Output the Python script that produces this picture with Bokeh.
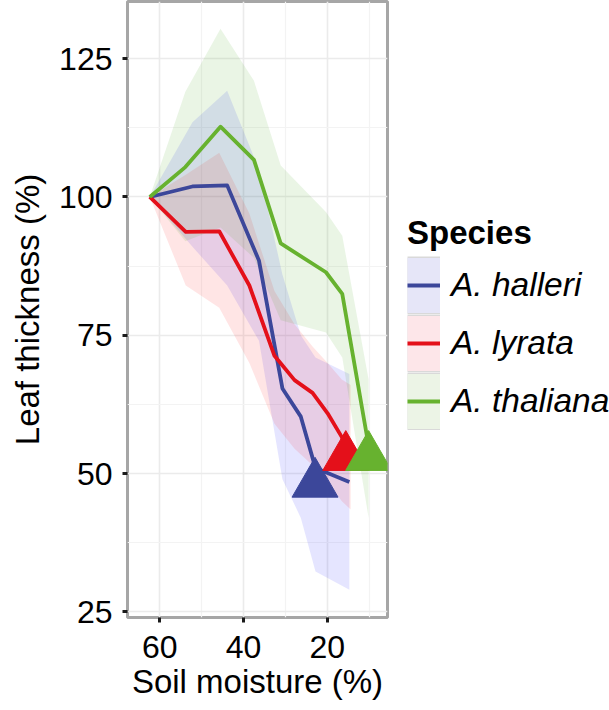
from bokeh.plotting import figure
from bokeh.layouts import row
from bokeh.models import Range1d, FixedTicker, Legend, LegendItem
from bokeh.embed import file_html
from bokeh.resources import INLINE

# ---------------- data ----------------
species = ["A. halleri", "A. lyrata", "A. thaliana"]
line_colors = ["#3C479A", "#E4101A", "#67B22F"]
band_colors = ["#0000FF", "#FF0000", "#339900"]
key_colors = ["#e6e6f8", "#fde6e9", "#ecf4e6"]

halleri_moisture = [62.4, 52.2, 43.9, 36.3, 30.7, 26.3, 22.8, 14.7]
halleri_thickness = [100, 101.9, 102.1, 88.5, 65.4, 60.3, 51.0, 48.5]
halleri_upper = [100, 113.5, 119.2, 105.0, 86.0, 75.0, 71.0, 68.0]
halleri_lower = [100, 91.0, 84.0, 74.0, 49.0, 42.0, 32.3, 29.0]

lyrata_moisture = [62.4, 53.8, 45.8, 38.6, 32.6, 27.8, 23.5, 19.9, 16.5, 14.4]
lyrata_thickness = [100, 93.7, 93.8, 84.0, 71.3, 66.9, 64.6, 60.9, 56.6, 53.0]
lyrata_upper = [100, 104, 108, 97, 83, 77, 73, 70, 67, 66]
lyrata_lower = [100, 84, 80, 70, 59, 54.5, 51.5, 48.5, 45, 43.5]

thaliana_moisture = [62.4, 53.9, 45.5, 37.5, 31.1, 20.3, 16.4, 10.1]
thaliana_thickness = [100, 105.4, 112.7, 106.7, 91.6, 86.4, 82.5, 55.0]
thaliana_upper = [100, 119, 130.4, 121, 105.7, 97.3, 93, 67]
thaliana_lower = [100, 92, 94.5, 89, 77.7, 75.5, 71, 42]

# threshold points (triangles)
threshold_moisture = [22.9, 15.56, 10.1]
threshold_thickness = [48.15, 52.98, 52.98]

x_ticks = [20, 40, 60]
x_minor = [10, 30, 50]
y_ticks = [25, 50, 75, 100, 125]
y_minor = [37.5, 62.5, 87.5, 112.5]

series = [
    (halleri_moisture, halleri_thickness, halleri_upper, halleri_lower),
    (lyrata_moisture, lyrata_thickness, lyrata_upper, lyrata_lower),
    (thaliana_moisture, thaliana_thickness, thaliana_upper, thaliana_lower),
]

FONT = "Liberation Sans"

p = figure(
    width=389, height=710,
    x_range=Range1d(67.72, 5.59), y_range=Range1d(24.0, 135.33),
    output_backend="svg", toolbar_location=None,
    min_border_left=127, min_border_top=1, min_border_right=2, min_border_bottom=93,
    background_fill_color="white", border_fill_color="white",
)

p.outline_line_color = "#a6a6a6"
p.outline_line_width = 3

# axes
p.xaxis.ticker = FixedTicker(ticks=x_ticks, minor_ticks=x_minor)
p.yaxis.ticker = FixedTicker(ticks=y_ticks, minor_ticks=y_minor)
p.xaxis.axis_label = "Soil moisture (%)"
p.yaxis.axis_label = "Leaf thickness (%)"
for ax in (p.xaxis[0], p.yaxis[0]):
    ax.axis_line_color = None
    ax.major_tick_in = 0
    ax.major_tick_out = 5
    ax.major_tick_line_width = 3
    ax.major_tick_line_color = "#1a1a1a"
    ax.minor_tick_in = 0
    ax.minor_tick_out = 0
    ax.minor_tick_line_color = None
    ax.major_label_text_font = FONT
    ax.major_label_text_font_size = "32px"
    ax.major_label_text_color = "black"
    ax.axis_label_text_font = FONT
    ax.axis_label_text_font_size = "33px"
    ax.axis_label_text_font_style = "normal"
    ax.axis_label_text_color = "black"
p.xaxis.major_label_standoff = 13
p.xaxis.axis_label_standoff = 2
p.yaxis.major_label_standoff = 10
p.yaxis.axis_label_standoff = 10

for g in (p.xgrid[0], p.ygrid[0]):
    g.grid_line_color = "#ebebeb"
    g.grid_line_width = 1.6
    g.minor_grid_line_color = "#f3f3f3"
    g.minor_grid_line_width = 1.2

# bands
for (mx, th, up, lo), bc in zip(series, band_colors):
    p.varea(x=mx, y1=lo, y2=up, fill_color=bc, fill_alpha=0.1)

# lines
for (mx, th, up, lo), lc in zip(series, line_colors):
    p.line(x=mx, y=th, line_color=lc, line_width=3.8, line_join="round")

# threshold triangles
for i in range(3):
    p.scatter(x=[threshold_moisture[i]], y=[threshold_thickness[i]], marker="triangle",
              size=46, fill_color=line_colors[i], line_color=line_colors[i], line_width=1)

# ---------------- legend panel ----------------
leg = figure(
    width=220, height=710, x_range=Range1d(0, 1), y_range=Range1d(0, 1),
    output_backend="svg", toolbar_location=None,
    x_axis_location=None, y_axis_location=None, min_border=0,
    outline_line_color=None, background_fill_color="white", border_fill_color="white",
)
leg.grid.visible = False

# key renderers hold a point outside the visible range; they only draw the legend keys
offscreen = [5, 6]
items = []
for sp, kc, lc in zip(species, key_colors, line_colors):
    b = leg.line(x=offscreen, y=offscreen, line_color="#d9d9d9", line_width=58, line_cap="butt")
    f = leg.line(x=offscreen, y=offscreen, line_color=kc, line_width=55, line_cap="butt")
    l = leg.line(x=offscreen, y=offscreen, line_color=lc, line_width=3.8)
    items.append(LegendItem(label=sp, renderers=[b, f, l]))

legend = Legend(items=items, title="Species", location=(18, 187))
legend.title_text_font = FONT
legend.title_text_font_size = "33px"
legend.title_text_font_style = "bold"
legend.title_text_color = "black"
legend.title_standoff = 4
legend.label_text_font = FONT
legend.label_text_font_size = "33.5px"
legend.label_text_font_style = "italic"
legend.label_text_color = "black"
legend.glyph_width = 33
legend.glyph_height = 58
legend.spacing = 0
legend.label_standoff = 11
legend.padding = 5
legend.margin = 0
legend.border_line_color = None
legend.background_fill_alpha = 0
leg.add_layout(legend, "center")

layout = row(p, leg)
open("out.html", "w").write(file_html(layout, INLINE))
